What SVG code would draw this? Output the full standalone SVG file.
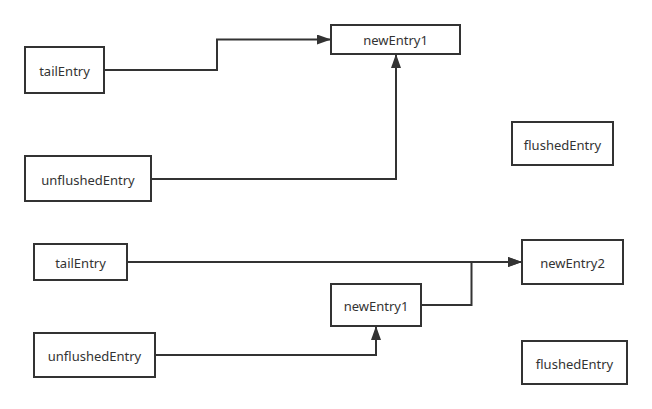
<svg xmlns="http://www.w3.org/2000/svg" width="652" height="409" viewBox="0 0 652 409">
<style>
.box{fill:#fff;stroke:#333;stroke-width:2}
.lbl{font-family:"Noto Sans","Liberation Sans",sans-serif;font-size:13px;fill:#333;text-anchor:middle;dominant-baseline:central}
.edge{fill:none;stroke:#333;stroke-width:2}
</style>
<defs>
<marker id="arr" viewBox="0 0 14 10" refX="14" refY="5" markerWidth="14" markerHeight="10" markerUnits="userSpaceOnUse" orient="auto">
<path d="M0,0 L14,5 L0,10 Z" fill="#333"/>
</marker>
</defs>
<rect width="652" height="409" fill="#fff"/>
<g id="edges">
<path class="edge" d="M104,70 H217 V39.5 H331" marker-end="url(#arr)"/>
<path class="edge" d="M151,179 H396 V54" marker-end="url(#arr)"/>
<path class="edge" d="M127,262 H522" marker-end="url(#arr)"/>
<path class="edge" d="M421,305 H471.5 V262 H522" marker-end="url(#arr)"/>
<path class="edge" d="M155,355 H376 V326" marker-end="url(#arr)"/>
</g>
<g id="n1"><rect class="box" x="331" y="25" width="129" height="29"/><text class="lbl" x="395.5" y="40">newEntry1</text></g>
<g id="n2"><rect class="box" x="25" y="47" width="79" height="46"/><text class="lbl" x="64.5" y="71">tailEntry</text></g>
<g id="n3"><rect class="box" x="25" y="156" width="126" height="45"/><text class="lbl" x="88" y="179.5">unflushedEntry</text></g>
<g id="n4"><rect class="box" x="512" y="122" width="101" height="43"/><text class="lbl" x="562.5" y="144.5">flushedEntry</text></g>
<g id="n5"><rect class="box" x="34" y="244" width="93" height="36"/><text class="lbl" x="80.5" y="263">tailEntry</text></g>
<g id="n6"><rect class="box" x="34" y="333" width="121" height="44"/><text class="lbl" x="94.5" y="356">unflushedEntry</text></g>
<g id="n7"><rect class="box" x="331" y="284" width="90" height="42"/><text class="lbl" x="376" y="306">newEntry1</text></g>
<g id="n8"><rect class="box" x="522" y="240" width="101" height="44"/><text class="lbl" x="572.5" y="263">newEntry2</text></g>
<g id="n9"><rect class="box" x="522" y="341" width="105" height="43"/><text class="lbl" x="574.5" y="363.5">flushedEntry</text></g>
</svg>
